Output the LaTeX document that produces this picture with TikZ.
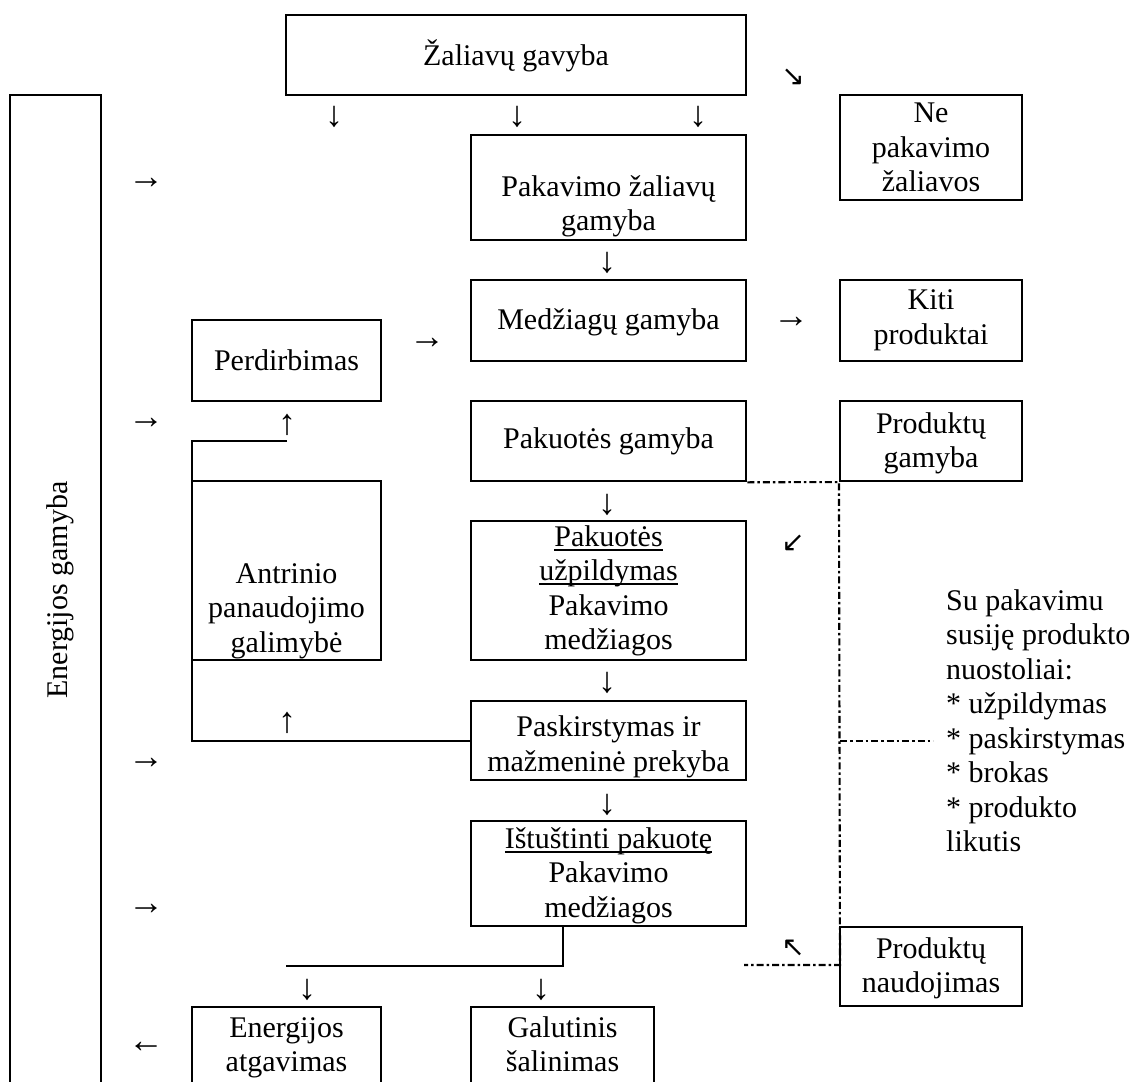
\documentclass[tikz,border=0pt]{standalone}
\usepackage{fontspec}
\setmainfont{Liberation Serif}
\newfontfamily\arrowfont{DejaVu Sans}
\newcommand\myul[1]{\setbox0\hbox{#1}\rlap{\rule[-4.5pt]{\wd0}{1.6pt}}\box0}
\begin{document}
\begin{tikzpicture}[x=1pt,y=-1pt,
  box/.style={draw, line width=2.6pt, inner sep=0pt},
  tbox/.style={draw, line width=2.1pt, inner sep=0pt},
  txt/.style={inner sep=0pt, anchor=base, font=\fontsize{30pt}{34.5pt}\selectfont},
  ltxt/.style={inner sep=0pt, anchor=base west, font=\fontsize{30pt}{34.5pt}\selectfont},
  arr/.style={inner sep=0pt, font=\fontsize{36pt}{40pt}\selectfont},
  darr/.style={inner sep=0pt, font=\arrowfont\fontsize{28pt}{30pt}\selectfont},
  conn/.style={line width=2.1pt},
  dd/.style={line width=2.1pt, dash pattern=on 7pt off 3pt on 2.5pt off 3pt}]
\useasboundingbox (0,0) rectangle (1131,1081);
\clip (0,0) rectangle (1131,1081);
\fill[white] (0,0) rectangle (1131,1081);

% boxes
\node[box, minimum width=460pt, minimum height=80pt] (zg) at (516,55) {};
\node[box, minimum width=91pt, minimum height=1105pt] (eg) at (55.5,647.5) {};
\node[box, minimum width=275pt, minimum height=105pt] (pzg) at (608.5,187.5) {};
\node[tbox, minimum width=182pt, minimum height=105pt] (npz) at (931,147.5) {};
\node[box, minimum width=275pt, minimum height=81pt] (mg) at (608.5,320.5) {};
\node[tbox, minimum width=182pt, minimum height=81pt] (kp) at (931,320.5) {};
\node[box, minimum width=189pt, minimum height=81pt] (per) at (286.5,360.5) {};
\node[box, minimum width=275pt, minimum height=80pt] (pg) at (608.5,441) {};
\node[tbox, minimum width=182pt, minimum height=80pt] (prg) at (931,441) {};
\node[box, minimum width=189pt, minimum height=179pt] (ant) at (286.5,570.5) {};
\node[tbox, minimum width=275pt, minimum height=139pt] (pu) at (608.5,590.5) {};
\node[tbox, minimum width=275pt, minimum height=79pt] (pmp) at (608.5,740.5) {};
\node[tbox, minimum width=275pt, minimum height=105pt] (ip) at (608.5,873.5) {};
\node[tbox, minimum width=189pt, minimum height=193pt] (ea) at (286.5,1103.5) {};
\node[tbox, minimum width=183pt, minimum height=193pt] (gs) at (562.5,1103.5) {};
\node[tbox, minimum width=182pt, minimum height=79pt] (pn) at (931,966.5) {};

% texts
\node[txt] (t1) at (516,65) {Žaliavų gavyba};
\node[txt, rotate=90] (t2) at (67,590) {Energijos gamyba};
\node[txt] (t3a) at (608.5,196) {Pakavimo žaliavų};
\node[txt] (t3b) at (608.5,230.5) {gamyba};
\node[txt] (t4a) at (931,122.5) {Ne};
\node[txt] (t4b) at (931,157) {pakavimo};
\node[txt] (t4c) at (931,191.5) {žaliavos};
\node[txt] (t5) at (608.5,329) {Medžiagų gamyba};
\node[txt] (t6a) at (931,309.5) {Kiti};
\node[txt] (t6b) at (931,344) {produktai};
\node[txt] (t7) at (286.5,370) {Perdirbimas};
\node[txt] (t8) at (608.5,448) {Pakuotės gamyba};
\node[txt] (t9a) at (931,433) {Produktų};
\node[txt] (t9b) at (931,467.5) {gamyba};
\node[txt] (t10a) at (286.5,583) {Antrinio};
\node[txt] (t10b) at (286.5,617.5) {panaudojimo};
\node[txt] (t10c) at (286.5,652) {galimybė};
\node[txt] (t11a) at (608.5,546) {\myul{Pakuotės}};
\node[txt] (t11b) at (608.5,580.5) {\myul{užpildymas}};
\node[txt] (t11c) at (608.5,615) {Pakavimo};
\node[txt] (t11d) at (608.5,649.5) {medžiagos};
\node[txt] (t12a) at (608.5,736.5) {Paskirstymas ir};
\node[txt] (t12b) at (608.5,771) {mažmeninė prekyba};
\node[txt] (t13a) at (608.5,848) {\myul{Ištuštinti pakuotę}};
\node[txt] (t13b) at (608.5,882.5) {Pakavimo};
\node[txt] (t13c) at (608.5,917) {medžiagos};
\node[txt] (t14a) at (286.5,1037) {Energijos};
\node[txt] (t14b) at (286.5,1071.5) {atgavimas};
\node[txt] (t15a) at (562.5,1037) {Galutinis};
\node[txt] (t15b) at (562.5,1071.5) {šalinimas};
\node[txt] (t16a) at (931,958) {Produktų};
\node[txt] (t16b) at (931,992.5) {naudojimas};
\node[ltxt] (s1) at (946,610) {Su pakavimu};
\node[ltxt] (s2) at (946,644.5) {susiję produkto};
\node[ltxt] (s3) at (946,679) {nuostoliai:};
\node[ltxt] (s4) at (946,713.5) {* užpildymas};
\node[ltxt] (s5) at (946,748) {* paskirstymas};
\node[ltxt] (s6) at (946,782.5) {* brokas};
\node[ltxt] (s7) at (946,817) {* produkto};
\node[ltxt] (s8) at (946,851.5) {likutis};

% glyph arrows
\node[arr] (a1) at (334,117) {↓};
\node[arr] (a2) at (517,117) {↓};
\node[arr] (a3) at (698,117) {↓};
\node[darr] (a4) at (793,77) {↘};
\node[arr] (a5) at (146,183) {→};
\node[arr] (a6) at (607,263) {↓};
\node[arr] (a7) at (791,322) {→};
\node[arr] (a8) at (427,343) {→};
\node[arr] (a9) at (146,423) {→};
\node[arr] (a10) at (287,425) {↑};
\node[arr] (a11) at (607,505) {↓};
\node[darr] (a12) at (793,543) {↙};
\node[arr] (a13) at (607,683) {↓};
\node[arr] (a14) at (287,723) {↑};
\node[arr] (a15) at (146,763) {→};
\node[arr] (a16) at (607,805) {↓};
\node[arr] (a17) at (146,909) {→};
\node[darr] (a18) at (793,948) {↖};
\node[arr] (a19) at (307,990) {↓};
\node[arr] (a20) at (541,990) {↓};
\node[arr] (a21) at (146,1047) {←};

% connector lines
\coordinate (l1) at (287,441);
\coordinate (l2) at (192,441);
\coordinate (l3) at (192,741);
\draw[conn] (l1) -- (l2) -- (l3) -- (pmp.west |- l3);
\coordinate (j1) at (563,966);
\coordinate (j2) at (286,966);
\draw[conn] (ip.south -| j1) -- (j1) -- (j2);

% dash-dot lines
\coordinate (d1) at (840,965);
\coordinate (d2) at (744,965);
\coordinate (d3) at (840,741);
\coordinate (d4) at (933,741);
\draw[dd] (pg.south east) -- (prg.south west) -- (d1) -- (d2);
\draw[dd] (d3) -- (d4);
\end{tikzpicture}
\end{document}
